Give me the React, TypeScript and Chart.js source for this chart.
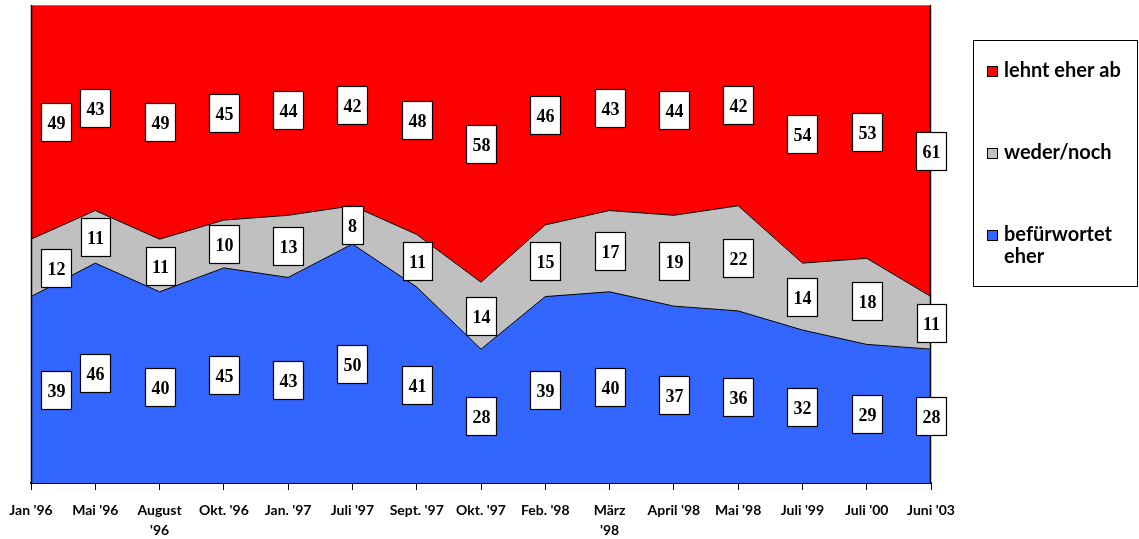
import { useEffect, useRef } from "react";
import { Chart, registerables } from "chart.js";

Chart.register(...registerables);

const categories: (string | string[])[] = [
  "Jan '96", "Mai '96", ["August", "'96"], "Okt. '96", "Jan. '97", "Juli '97",
  "Sept. '97", "Okt. '97", "Feb. '98", ["März", "'98"], "April '98", "Mai '98",
  "Juli '99", "Juli '00", "Juni '03",
];
const befuerwortet = [39, 46, 40, 45, 43, 50, 41, 28, 39, 40, 37, 36, 32, 29, 28];
const wederNoch = [12, 11, 11, 10, 13, 8, 11, 14, 15, 17, 19, 22, 14, 18, 11];
const lehntAb = [49, 43, 49, 45, 44, 42, 48, 58, 46, 43, 44, 42, 54, 53, 61];
const seriesNames = ["befürwortet eher", "weder/noch", "lehnt eher ab"];
const legendLines = [["befürwortet", "eher"], ["weder/noch"], ["lehnt eher ab"]];
const seriesColors = ["#3366FF", "#C0C0C0", "#FF0000"];

const framePlugin = {
  id: "frame",
  afterDatasetsDraw(chart: any) {
    const { ctx, chartArea: a } = chart;
    ctx.save();
    ctx.lineWidth = 1;
    ctx.strokeStyle = "#808080";
    ctx.beginPath();
    ctx.moveTo(a.left, a.top + 0.5);
    ctx.lineTo(a.right, a.top + 0.5);
    ctx.stroke();
    ctx.strokeStyle = "#000";
    ctx.lineWidth = 1.5;
    ctx.beginPath();
    ctx.moveTo(a.left + 0.5, a.top);
    ctx.lineTo(a.left + 0.5, a.bottom);
    ctx.moveTo(a.right - 0.5, a.top);
    ctx.lineTo(a.right - 0.5, a.bottom);
    ctx.stroke();
    ctx.restore();
  },
};

const labelPlugin = {
  id: "boxLabels",
  afterDraw(chart: any) {
    const { ctx, chartArea: a } = chart;
    const x = chart.scales.x;
    const y = chart.scales.y;
    const ds = chart.data.datasets;
    ctx.save();
    ctx.font = 'bold 18px "Liberation Serif"';
    ctx.textAlign = "center";
    ctx.textBaseline = "middle";
    ds.forEach((d: any, di: number) => {
      d.data.forEach((v: number, i: number) => {
        let base = 0;
        for (let k = 0; k < di; k++) base += ds[k].data[i];
        const yc = Math.round(y.getPixelForValue(base + v / 2));
        let xc = x.getPixelForValue(i);
        const text = String(v);
        const w = Math.round(ctx.measureText(text).width + 12);
        const h = 38;
        if (xc - w / 2 < a.left + 10) xc = a.left + 10 + w / 2;
        xc = Math.round(xc);
        const bx = Math.round(xc - w / 2);
        const by = Math.round(yc - h / 2);
        ctx.fillStyle = "#fff";
        ctx.fillRect(bx, by, w, h);
        ctx.strokeStyle = "#000";
        ctx.lineWidth = 1.2;
        ctx.strokeRect(bx + 0.5, by + 0.5, w, h);
        ctx.fillStyle = "#000";
        ctx.fillText(text, xc + 0.5, yc + 2);
      });
    });
    ctx.restore();
  },
};

const legendPlugin = {
  id: "sideLegend",
  afterDraw(chart: any) {
    const { ctx, chartArea: a } = chart;
    const lx = a.right + 42;
    const ly = a.top + 35;
    const lw = chart.width - 2 - lx;
    const lh = 246;
    ctx.save();
    ctx.strokeStyle = "#000";
    ctx.lineWidth = 1;
    ctx.strokeRect(lx + 0.5, ly + 0.5, lw, lh);
    ctx.font = 'bold 20px Lato';
    ctx.textAlign = "left";
    ctx.textBaseline = "middle";
    const order = [2, 1, 0];
    order.forEach((si, idx) => {
      const yc = ly + 31 + idx * 82;
      ctx.fillStyle = seriesColors[si];
      ctx.fillRect(lx + 14, yc - 5, 11, 11);
      ctx.strokeStyle = "#000";
      ctx.lineWidth = 1;
      ctx.strokeRect(lx + 14.5, yc - 4.5, 10, 10);
      ctx.fillStyle = "#000";
      legendLines[si].forEach((line, j) => {
        ctx.fillText(line, lx + 31, yc + j * 22);
      });
    });
    ctx.restore();
  },
};

export default function App() {
  const ref = useRef<HTMLCanvasElement | null>(null);
  useEffect(() => {
    if (!ref.current) return;
    const values = [befuerwortet, wederNoch, lehntAb];
    const chart = new Chart(ref.current, {
      type: "line",
      data: {
        labels: categories as any,
        datasets: values.map((vals, i) => ({
          label: seriesNames[i],
          data: vals,
          backgroundColor: seriesColors[i],
          borderColor: "#000",
          borderWidth: i === 2 ? 0 : 1,
          fill: i === 0 ? "origin" : "-1",
          pointRadius: 0,
          tension: 0,
        })),
      },
      options: {
        animation: false,
        responsive: true,
        maintainAspectRatio: false,
        layout: { padding: { left: 31, right: 208, top: 5, bottom: 0 } },
        plugins: { legend: { display: false }, tooltip: { enabled: false } },
        scales: {
          x: {
            offset: false,
            grid: {
              display: true,
              drawOnChartArea: false,
              drawTicks: true,
              tickLength: 7,
              color: "#000",
              lineWidth: 1,
            },
            border: { display: true, color: "#000", width: 2 },
            ticks: {
              color: "#000",
              font: { family: "Lato", weight: "bold", size: 14, lineHeight: 1.4 },
              padding: 11,
              maxRotation: 0,
              autoSkip: false,
            },
            afterFit: (s: any) => {
              s.height = 56;
              s.paddingLeft = 0;
              s.paddingRight = 0;
            },
          },
          y: {
            display: false,
            stacked: true,
            min: 0,
            max: 100,
          },
        },
      },
      plugins: [framePlugin, labelPlugin, legendPlugin],
    });
    return () => chart.destroy();
  }, []);
  return (
    <div style={{ position: "absolute", left: 0, top: 0, width: 1139, height: 539 }}>
      <canvas ref={ref} />
    </div>
  );
}
